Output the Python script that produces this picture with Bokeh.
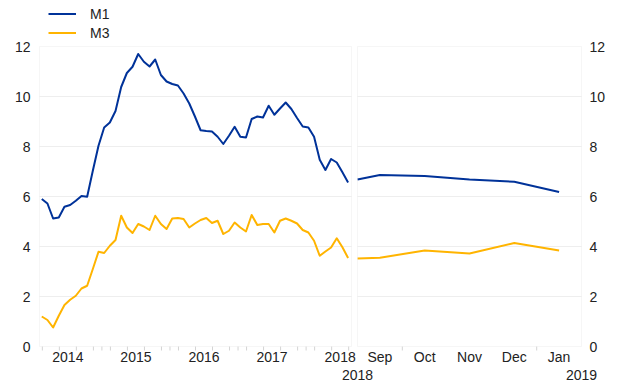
from bokeh.plotting import figure
from bokeh.models import Range1d, BoxAnnotation, Legend, LegendItem
from bokeh.core.properties import value
from bokeh.embed import file_html
from bokeh.resources import INLINE

# ---------------- data ----------------
# left panel: monthly, months counted from Jan 2014 (=0); Feb 2014 .. Aug 2018
left_months = list(range(1, 56))
m1_left = [5.90, 5.72, 5.12, 5.16, 5.59, 5.66, 5.83, 6.02, 5.99, 7.03,
           8.03, 8.76, 8.96, 9.42, 10.38, 10.94, 11.19, 11.70, 11.39, 11.20,
           11.48, 10.86, 10.60, 10.50, 10.44, 10.12, 9.72, 9.20, 8.65, 8.62,
           8.60, 8.39, 8.10, 8.43, 8.79, 8.39, 8.36, 9.10, 9.20, 9.16,
           9.63, 9.27, 9.52, 9.76, 9.50, 9.14, 8.80, 8.76, 8.39, 7.47,
           7.06, 7.50, 7.36, 6.97, 6.56]
m3_left = [1.20, 1.06, 0.76, 1.23, 1.66, 1.87, 2.03, 2.32, 2.43, 3.10,
           3.79, 3.74, 4.03, 4.26, 5.23, 4.76, 4.54, 4.90, 4.80, 4.66,
           5.23, 4.90, 4.70, 5.12, 5.14, 5.10, 4.76, 4.92, 5.06, 5.14,
           4.94, 5.03, 4.50, 4.63, 4.96, 4.76, 4.60, 5.26, 4.86, 4.90,
           4.90, 4.56, 5.03, 5.12, 5.03, 4.92, 4.66, 4.56, 4.23, 3.63,
           3.80, 3.96, 4.33, 3.97, 3.54]
year_labels = ["2014", "2015", "2016", "2017", "2018"]
year_centres = [6, 18, 30, 42, 54]
year_bounds = [12, 24, 36, 48]

# right panel: Sep 2018 .. Jan 2019 (month centres 1..5)
right_pos = [0.5, 1, 2, 3, 4, 5]
m1_right = [6.68, 6.86, 6.82, 6.68, 6.59, 6.18]
m3_right = [3.52, 3.55, 3.84, 3.72, 4.14, 3.84]
right_month_labels = ["Sep", "Oct", "Nov", "Dec", "Jan"]
right_month_pos = [1, 2, 3, 4, 5]
right_minor = [1.5, 4.5]
right_year_labels = ["2018", "2019"]
right_year_pos = [0.5, 5.5]

series_names = ["M1", "M3"]
y_ticks = [0, 2, 4, 6, 8, 10, 12]

# ---------------- layout constants (page pixels) ----------------
W, H = 620, 387
PL0, PL1 = 39, 351    # left panel x extent
PR0, PR1 = 357, 581   # right panel x extent
PT, PB = 46, 346      # panels top / bottom

L_START, L_END = 1, 56
ppm = (PL1 - PL0) / (L_END - L_START)
R_START, R_END = 0.5, 5.5
ppr = (PR1 - PR0) / (R_END - R_START)
Y_MAX = 12
ppy = (PB - PT) / Y_MAX

BLUE = "#003299"
YELLOW = "#FFB400"
TXT = "#222222"
FONT = "Liberation Sans"
FS = "14px"
GRID = "#eeeeee"
FRAME = "#e0e0e0"
TICK = "#d4d4d4"

p = figure(width=W, height=H, output_backend="svg", toolbar_location=None,
           title=None, x_axis_type=None, y_axis_type=None,
           x_range=Range1d(L_START - PL0 / ppm, L_START + (W - PL0) / ppm),
           y_range=Range1d(-(H - PB) / ppy, Y_MAX + PT / ppy),
           min_border=0, min_border_left=0, min_border_right=0,
           min_border_top=0, min_border_bottom=0)
p.extra_x_ranges = {"r": Range1d(R_START - PR0 / ppr,
                                 R_START + (W - PR0) / ppr)}
p.outline_line_color = None
p.grid.visible = False

# grid lines inside each panel
inner = y_ticks[1:-1]
p.segment(x0=L_START, x1=L_END, y0=inner, y1=inner, line_color=GRID,
          line_width=1)
p.segment(x0=R_START, x1=R_END, y0=inner, y1=inner, line_color=GRID,
          line_width=1, x_range_name="r")

# panel frames
p.add_layout(BoxAnnotation(left=L_START, right=L_END, bottom=0, top=Y_MAX,
                           fill_alpha=0, line_color=FRAME, line_width=1))
p.add_layout(BoxAnnotation(x_range_name="r", left=R_START, right=R_END,
                           bottom=0, top=Y_MAX, fill_alpha=0,
                           line_color=FRAME, line_width=1))

# minor ticks under the panels
tick_len = 4 / ppy
quarter_ticks = [1.5 + 3 * k for k in range(19)]
left_minor = sorted(quarter_ticks + year_bounds)
p.segment(x0=left_minor, x1=left_minor, y0=0, y1=-tick_len,
          line_color=TICK, line_width=1)
p.segment(x0=right_minor, x1=right_minor, y0=0, y1=-tick_len,
          line_color=TICK, line_width=1, x_range_name="r")

# series
lx = [m + 0.4 for m in left_months]
r1 = p.line(lx, m1_left, line_color=BLUE, line_width=2, line_join="round")
r3 = p.line(lx, m3_left, line_color=YELLOW, line_width=2, line_join="round")
p.line(right_pos, m1_right, line_color=BLUE, line_width=2, line_join="round",
       x_range_name="r")
p.line(right_pos, m3_right, line_color=YELLOW, line_width=2,
       line_join="round", x_range_name="r")

txt = dict(text_font=value(FONT), text_font_size=FS, text_color=TXT,
           text_baseline="middle")

# value axis labels (left and right)
p.text(x=L_START, y=y_ticks, text=[str(v) for v in y_ticks],
       text_align="right", x_offset=-9, **txt)
p.text(x=R_END, y=y_ticks, text=[str(v) for v in y_ticks],
       text_align="left", x_offset=8, x_range_name="r", **txt)

# time axis, first row
p.text(x=year_centres, y=0, text=year_labels, text_align="center",
       y_offset=10, **txt)
p.text(x=right_month_pos, y=0, text=right_month_labels, text_align="center",
       y_offset=10, x_range_name="r", **txt)
# time axis, second row
p.text(x=right_year_pos, y=0, text=right_year_labels, text_align="center",
       y_offset=28, x_range_name="r", **txt)

# legend above the left panel
legend = Legend(items=[LegendItem(label=series_names[0], renderers=[r1]),
                       LegendItem(label=series_names[1], renderers=[r3])],
                location=(PL0 + 9, H - 42), orientation="vertical",
                padding=0, margin=0, spacing=0,
                glyph_width=28, glyph_height=19, label_height=19,
                label_standoff=14, border_line_color=None,
                background_fill_alpha=0,
                label_text_font=FONT, label_text_font_size=FS,
                label_text_color=TXT)
p.add_layout(legend)

open("out.html", "w").write(file_html(p, INLINE))
